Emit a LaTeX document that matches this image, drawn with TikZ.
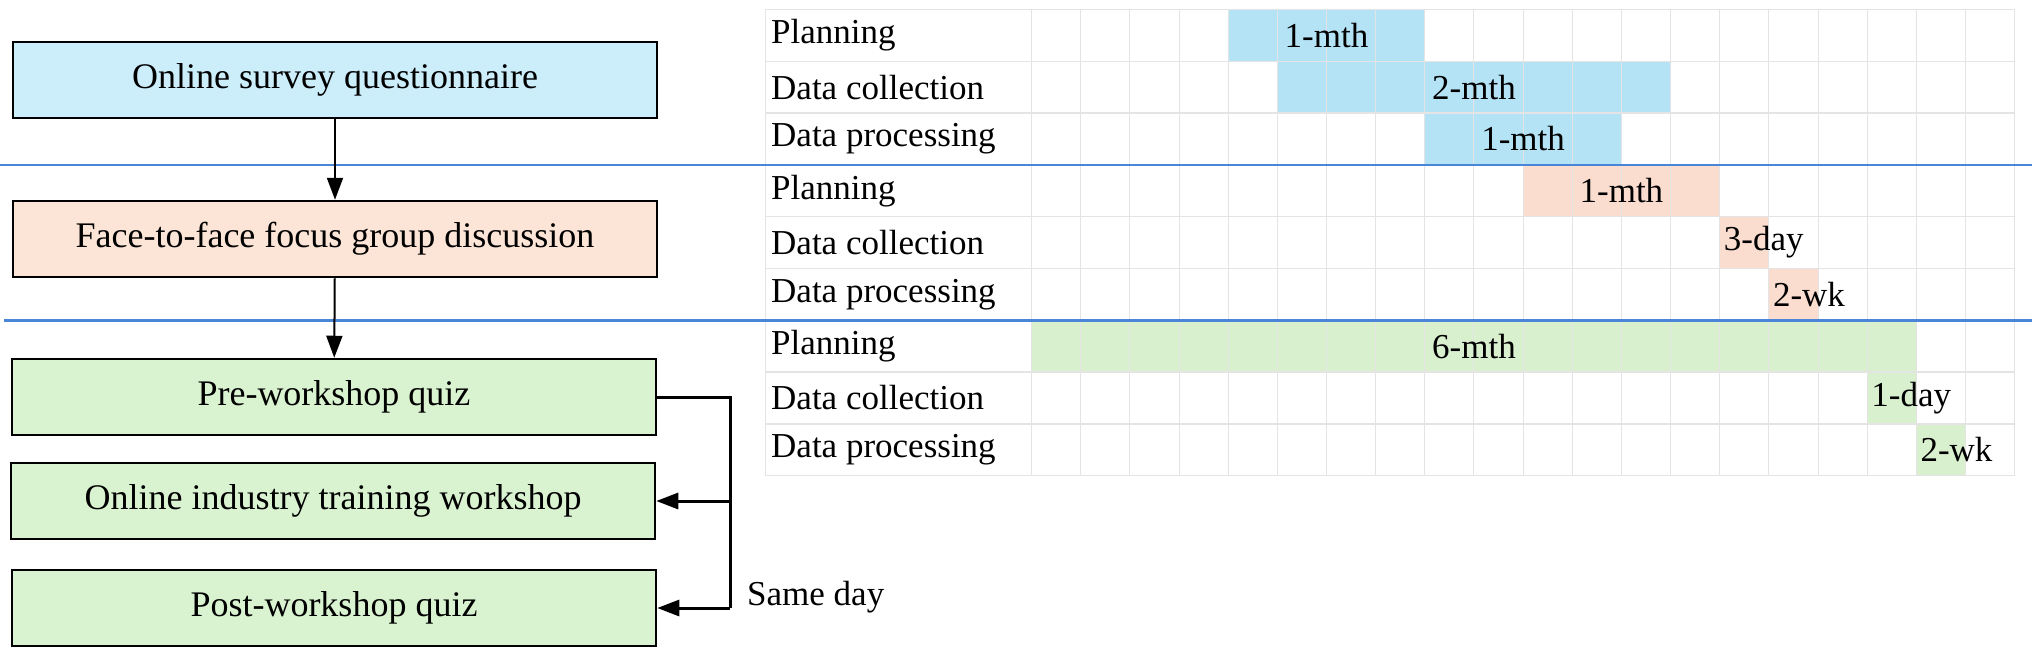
\documentclass[tikz,border=0pt]{standalone}
\usepackage{fontspec}
\setmainfont{Liberation Serif}
\usetikzlibrary{arrows.meta}
\definecolor{bxblue}{HTML}{CCEEFB}
\definecolor{bxpeach}{HTML}{FCE4D6}
\definecolor{bxgreen}{HTML}{D9F2D0}
\definecolor{barblue}{HTML}{B4E3F6}
\definecolor{barpeach}{HTML}{FBDDD0}
\definecolor{bargreen}{HTML}{D9F0CF}
\definecolor{sepblue}{HTML}{4A86D8}
\definecolor{gridc}{HTML}{E4E4E4}
\begin{document}
\begin{tikzpicture}[x=1pt,y=-1pt,
  box/.style={draw=black,line width=2.5pt,minimum width=644pt,minimum height=76pt,inner sep=0pt,font=\fontsize{36}{40}\selectfont},
  lbl/.style={anchor=west,inner sep=0pt,font=\fontsize{35}{40}\selectfont},
  bartext/.style={inner sep=0pt,font=\fontsize{35}{40}\selectfont},
  flow/.style={line width=2pt,-{Triangle[length=22pt,width=16pt]}}]
\useasboundingbox (0,0) rectangle (2032,648);
% gantt
\def\xo{1031.6}\def\cw{49.15}\def\yo{9.5}\def\rh{51.8}
\newcommand{\gbar}[5]{% row, c1, c2, color, text/left flag
  \fill[#4] ({\xo+#2*\cw},{\yo+(#1-1)*\rh}) rectangle ({\xo+#3*\cw},{\yo+#1*\rh});}
\gbar{1}{4}{8}{barblue}{}
\gbar{2}{5}{13}{barblue}{}
\gbar{3}{8}{12}{barblue}{}
\gbar{4}{10}{14}{barpeach}{}
\gbar{5}{14}{15}{barpeach}{}
\gbar{6}{15}{16}{barpeach}{}
\gbar{7}{0}{18}{bargreen}{}
\gbar{8}{17}{18}{bargreen}{}
\gbar{9}{18}{19}{bargreen}{}
\foreach \i in {0,...,20} \draw[gridc,line width=1pt] ({\xo+\i*\cw},\yo) -- ({\xo+\i*\cw},{\yo+9*\rh});
\draw[gridc,line width=1pt] (765,\yo) -- (765,{\yo+9*\rh});
\foreach \j in {0,...,9} \draw[gridc,line width=1.5pt] (765,{\yo+\j*\rh}) -- ({\xo+20*\cw},{\yo+\j*\rh});
\foreach \j/\t in {1/Planning,2/Data collection,3/Data processing,4/Planning,5/Data collection,6/Data processing,7/Planning,8/Data collection,9/Data processing}
  \node[lbl] (r\j) at (771,{\yo+(\j-0.5)*\rh}) {\t};
\node[bartext] (t1) at ({\xo+6*\cw},{\yo+0.5*\rh}) {1-mth};
\node[bartext] (t2) at ({\xo+9*\cw},{\yo+1.5*\rh}) {2-mth};
\node[bartext] (t3) at ({\xo+10*\cw},{\yo+2.5*\rh}) {1-mth};
\node[bartext] (t4) at ({\xo+12*\cw},{\yo+3.5*\rh}) {1-mth};
\node[bartext,anchor=west] (t5) at ({\xo+14*\cw+4},{\yo+4.5*\rh}) {3-day};
\node[bartext,anchor=west] (t6) at ({\xo+15*\cw+4},{\yo+5.5*\rh}) {2-wk};
\node[bartext] (t7) at ({\xo+9*\cw},{\yo+6.5*\rh}) {6-mth};
\node[bartext,anchor=west] (t8) at ({\xo+17*\cw+4},{\yo+7.5*\rh}) {1-day};
\node[bartext,anchor=west] (t9) at ({\xo+18*\cw+4},{\yo+8.5*\rh}) {2-wk};
% separators
\draw[sepblue,line width=2.5pt] (0,{\yo+3*\rh}) -- (2032,{\yo+3*\rh});
\draw[sepblue,line width=2.5pt] (4,{\yo+6*\rh}) -- (2032,{\yo+6*\rh});
% flow boxes
\node[box,fill=bxblue] (b1) at (335,80) {Online survey questionnaire};
\node[box,fill=bxpeach] (b2) at (335,239) {Face-to-face focus group discussion};
\node[box,fill=bxgreen] (b3) at (334,397) {Pre-workshop quiz};
\node[box,fill=bxgreen] (b4) at (333,501) {Online industry training workshop};
\node[box,fill=bxgreen] (b5) at (334,608) {Post-workshop quiz};
\draw[flow] (b1) -- (b2);
\draw[flow] (b2) -- (b3);
\coordinate (k) at (730,397);
\draw[line width=3pt] (b3.east) -- (k) -- (730,608);
\draw[flow,line width=3pt] (730,501) -- (b4.east);
\draw[flow,line width=3pt] (730,608) -- (b5.east);
\node[lbl,font=\fontsize{35}{40}\selectfont] (sd) at (747,597) {Same day};
\end{tikzpicture}
\end{document}
